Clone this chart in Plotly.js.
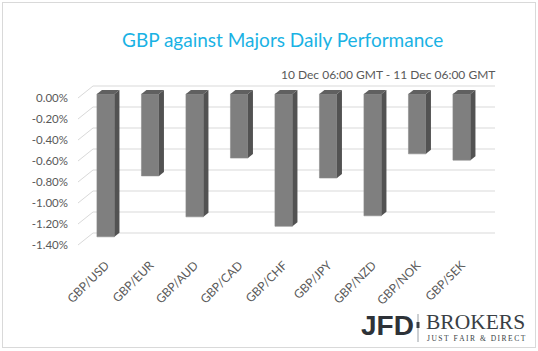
<!DOCTYPE html>
<html>
<head>
<meta charset="utf-8">
<script src="https://cdn.plot.ly/plotly-3.0.1.min.js"></script>
<style>
  html, body { margin: 0; padding: 0; background: #fff; }
  #wrap { position: relative; width: 538px; height: 351px; }
  #frame { position: absolute; left: 2px; top: 2px; width: 532px; height: 344px; border: 1px solid #d9d9d9; pointer-events: none; z-index: 5; }
  #chart { position: absolute; left: 0; top: 0; width: 538px; height: 351px; }
</style>
</head>
<body>
<div id="wrap"><div id="chart"></div><div id="frame"></div></div>
<script>
// ---- data ----
const categories = ['GBP/USD', 'GBP/EUR', 'GBP/AUD', 'GBP/CAD', 'GBP/CHF', 'GBP/JPY', 'GBP/NZD', 'GBP/NOK', 'GBP/SEK'];
const values = [-1.36, -0.78, -1.17, -0.61, -1.26, -0.80, -1.16, -0.57, -0.63];
const yTickVals = [0, -0.2, -0.4, -0.6, -0.8, -1.0, -1.2, -1.4];
const yTickText = ['0.00%', '-0.20%', '-0.40%', '-0.60%', '-0.80%', '-1.00%', '-1.20%', '-1.40%'];
const titleText = 'GBP against Majors Daily Performance';
const subtitleText = '10 Dec 06:00 GMT - 11 Dec 06:00 GMT';

// ---- geometry (pixels) ----
const W = 538, H = 351;
const mL = 93, mR = 43, mT = 80, mB = 96;
const plotW = W - mL - mR, plotH = H - mT - mB;
const catPx = 44.5;          // px per category
const firstCenterPx = 12.7;  // first bar centre from plot left
const pxPerPct = 105;        // px per 1 %
const barPx = 17.5, depthX = 5, depthY = 4;
const zeroBar = 14, zeroGrid = 6, zeroLab = 18; // px from plot top for 0 in each plane

const x0 = -firstCenterPx / catPx;
const xRange = [x0, x0 + plotW / catPx];
function yr(zeroPx) { return [-(plotH - zeroPx) / pxPerPct, zeroPx / pxPerPct]; }

const idx = categories.map((c, i) => i);
const barW = barPx / catPx;
const dx = depthX / catPx, dy = depthY / pxPerPct;

const traces = [{
  type: 'bar', x: idx, y: values, width: barW,
  marker: { color: '#7f7f7f', line: { color: '#8c8c8c', width: 0.6 } },
  hoverinfo: 'skip', xaxis: 'x', yaxis: 'y'
}];

const shapes = [];
// back wall gridlines and left wall diagonals
yTickVals.forEach(v => {
  shapes.push({ type: 'line', xref: 'paper', yref: 'y2', x0: 0, x1: 1, y0: v, y1: v,
    line: { color: '#d9d9d9', width: 1 }, layer: 'below' });
  shapes.push({ type: 'line', xref: 'paper', yref: 'y2', x0: -15 / plotW, x1: 0,
    y0: v - 12 / pxPerPct, y1: v, line: { color: '#d9d9d9', width: 1 }, layer: 'below' });
});
// 3D faces of bars
values.forEach((v, i) => {
  const l = i - barW / 2, r = i + barW / 2;
  shapes.push({ type: 'path', xref: 'x', yref: 'y', layer: 'above',
    path: `M ${l} 0 L ${r} 0 L ${r + dx} ${dy} L ${l + dx} ${dy} Z`,
    fillcolor: '#606060', line: { width: 0 } });
  shapes.push({ type: 'path', xref: 'x', yref: 'y', layer: 'above',
    path: `M ${r} 0 L ${r + dx} ${dy} L ${r + dx} ${v + dy} L ${r} ${v} Z`,
    fillcolor: '#525252', line: { width: 0 } });
});
// logo separator
shapes.push({ type: 'line', xref: 'paper', yref: 'paper', x0: (418 - mL) / plotW, x1: (418 - mL) / plotW,
  y0: (H - mB - 314) / plotH, y1: (H - mB - 342) / plotH, line: { color: '#9aa0a6', width: 1 } });
shapes.push({ type: 'line', xref: 'paper', yref: 'paper', x0: (418 - mL) / plotW, x1: (418 - mL) / plotW,
  y0: (H - mB - 322) / plotH, y1: (H - mB - 328) / plotH, line: { color: '#3a3f45', width: 3 } });

const gray = '#595959';
const font = 'Lato, "Open Sans", sans-serif';
const spaced = s => s.split('').join('\u2009');
const annotations = [
  { text: titleText, xref: 'paper', yref: 'paper', x: (282 - mL) / plotW, y: (H - mB - 40) / plotH,
    xanchor: 'center', yanchor: 'middle', showarrow: false, font: { family: font, size: 19, color: '#1ab2e4' } },
  { text: subtitleText, xref: 'paper', yref: 'paper', x: (497 - mL) / plotW, y: (H - mB - 74) / plotH,
    xanchor: 'right', yanchor: 'middle', showarrow: false, font: { family: font, size: 12, color: gray } },
  { text: '<b>JFD</b>', xref: 'paper', yref: 'paper', x: (359 - mL) / plotW, y: (H - mB - 325) / plotH,
    xanchor: 'left', yanchor: 'middle', showarrow: false,
    font: { family: '"Liberation Sans", Arial, sans-serif', size: 28, color: '#2e3238' } },
  { text: 'BROKERS', xref: 'paper', yref: 'paper', x: (424 - mL) / plotW, y: (H - mB - 322) / plotH,
    xanchor: 'left', yanchor: 'middle', showarrow: false,
    font: { family: '"Liberation Serif", serif', size: 21.5, color: '#3a3f45' } },
  { text: spaced('JUST FAIR & DIRECT').replace('&', '&amp;'), xref: 'paper', yref: 'paper', x: (425 - mL) / plotW, y: (H - mB - 338.5) / plotH,
    xanchor: 'left', yanchor: 'middle', showarrow: false,
    font: { family: '"Liberation Serif", serif', size: 7.5, color: '#3a3f45' } }
];

const layout = {
  width: W, height: H,
  margin: { l: mL, r: mR, t: mT, b: mB, pad: 0 },
  paper_bgcolor: '#ffffff', plot_bgcolor: 'rgba(0,0,0,0)',
  showlegend: false, bargap: 0,
  xaxis: { range: xRange, tickvals: idx, ticktext: categories, tickangle: -45,
    showgrid: false, zeroline: false, showline: false, ticks: '',
    tickfont: { family: font, size: 12, color: gray }, fixedrange: true },
  yaxis: { range: yr(zeroBar), showgrid: false, zeroline: false, showticklabels: false, fixedrange: true },
  yaxis2: { range: yr(zeroGrid), overlaying: 'y', showgrid: false, zeroline: false, showticklabels: false, fixedrange: true },
  yaxis3: { range: yr(zeroLab), overlaying: 'y', side: 'left', tickvals: yTickVals, ticktext: yTickText,
    showgrid: false, zeroline: false, ticks: '', ticklabelstandoff: 24,
    tickfont: { family: font, size: 11.5, color: gray }, fixedrange: true },
  shapes: shapes, annotations: annotations
};

// invisible traces to activate y2/y3
traces.push({ type: 'scatter', x: [0], y: [0], xaxis: 'x', yaxis: 'y2', mode: 'markers', marker: { opacity: 0 }, hoverinfo: 'skip' });
traces.push({ type: 'scatter', x: [0], y: [0], xaxis: 'x', yaxis: 'y3', mode: 'markers', marker: { opacity: 0 }, hoverinfo: 'skip' });

Plotly.newPlot('chart', traces, layout, { displayModeBar: false, staticPlot: true });
</script>
</body>
</html>
